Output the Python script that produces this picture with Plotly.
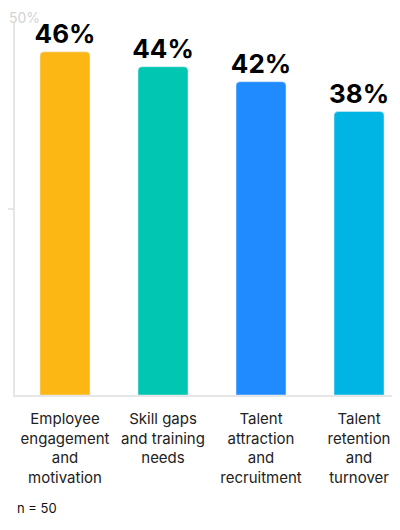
import plotly.graph_objects as go

categories = [
    "Employee<br>engagement<br>and<br>motivation",
    "Skill gaps<br>and training<br>needs",
    "Talent<br>attraction<br>and<br>recruitment",
    "Talent<br>retention<br>and<br>turnover",
]
values = [46, 44, 42, 38]
colors = ["#FDB715", "#00C6B2", "#1F8BFF", "#00B4E4"]

font = "Inter, Roboto, Arial, sans-serif"

fig = go.Figure(go.Bar(
    x=categories,
    y=values,
    width=0.51,
    marker=dict(color=colors, cornerradius=4),
    text=[f"{v}%" for v in values],
    textposition="outside",
    constraintext="none",
    textfont=dict(family=font, size=26, color="#000000", weight="bold"),
    cliponaxis=False,
))

# page has an 8px body margin, so the figure is offset by that much
fig.update_layout(
    width=392,
    height=522,
    margin=dict(l=7, r=0, t=14, b=135),
    plot_bgcolor="white",
    paper_bgcolor="white",
    showlegend=False,
    font=dict(family=font),
)
fig.update_xaxes(
    range=[-0.51, 3.418], automargin=False,
    showline=True, linecolor="#e6e6e6", linewidth=2,
    tickfont=dict(size=15, color="#222222"),
    ticks="", ticklabelstandoff=9,
)
fig.update_yaxes(
    range=[0, 50], automargin=False,
    showline=True, linecolor="#e6e6e6", linewidth=2,
    showgrid=False, zeroline=False,
    tickvals=[25], ticktext=[""],
    ticks="outside", ticklen=8, tickcolor="#e6e6e6", tickwidth=2,
)
fig.add_annotation(
    text="50%", xref="paper", yref="paper", x=0, y=1,
    xanchor="left", yanchor="top", yshift=14, xshift=-7, showarrow=False,
    borderpad=0, font=dict(size=14, color="#d3d3d3"),
)
fig.add_annotation(
    text="n = 50", xref="paper", yref="paper", x=0, y=0,
    xanchor="left", yanchor="middle", yshift=-113, showarrow=False,
    font=dict(size=13, color="#111111"),
)

fig.write_html("out.html")
